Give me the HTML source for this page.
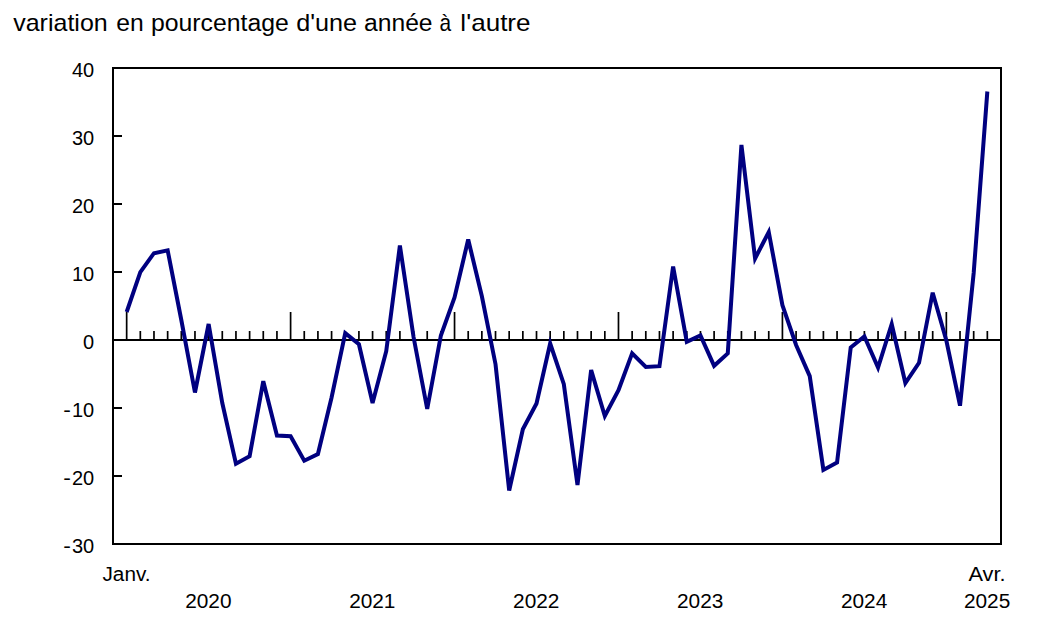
<!DOCTYPE html>
<html><head><meta charset="utf-8">
<style>
html,body{margin:0;padding:0;background:#fff;width:1038px;height:627px;overflow:hidden}
svg{display:block}
text{font-family:"Liberation Sans",sans-serif;fill:#000}
.yl{font-size:20px;text-anchor:end}
.ax{stroke:#000;stroke-width:2}
.tk{stroke:#000;stroke-width:1.7}
</style></head><body>
<svg width="1038" height="627" viewBox="0 0 1038 627">
<rect x="0" y="0" width="1038" height="627" fill="#fff"/>
<rect x="113" y="68" width="888" height="476" fill="none" stroke="#000" stroke-width="2"/>
<line x1="113" y1="340" x2="1001" y2="340" class="ax"/>
<line x1="113" y1="68.0" x2="122" y2="68.0" class="ax"/>
<line x1="113" y1="136.0" x2="122" y2="136.0" class="ax"/>
<line x1="113" y1="204.0" x2="122" y2="204.0" class="ax"/>
<line x1="113" y1="272.0" x2="122" y2="272.0" class="ax"/>
<line x1="113" y1="340.0" x2="122" y2="340.0" class="ax"/>
<line x1="113" y1="408.0" x2="122" y2="408.0" class="ax"/>
<line x1="113" y1="476.0" x2="122" y2="476.0" class="ax"/>
<line x1="113" y1="544.0" x2="122" y2="544.0" class="ax"/>
<line x1="126.66" y1="312" x2="126.66" y2="340" class="tk"/>
<line x1="140.32" y1="331" x2="140.32" y2="340" class="tk"/>
<line x1="153.98" y1="331" x2="153.98" y2="340" class="tk"/>
<line x1="167.65" y1="331" x2="167.65" y2="340" class="tk"/>
<line x1="181.31" y1="331" x2="181.31" y2="340" class="tk"/>
<line x1="194.97" y1="331" x2="194.97" y2="340" class="tk"/>
<line x1="208.63" y1="331" x2="208.63" y2="340" class="tk"/>
<line x1="222.29" y1="331" x2="222.29" y2="340" class="tk"/>
<line x1="235.95" y1="331" x2="235.95" y2="340" class="tk"/>
<line x1="249.62" y1="331" x2="249.62" y2="340" class="tk"/>
<line x1="263.28" y1="331" x2="263.28" y2="340" class="tk"/>
<line x1="276.94" y1="331" x2="276.94" y2="340" class="tk"/>
<line x1="290.60" y1="312" x2="290.60" y2="340" class="tk"/>
<line x1="304.26" y1="331" x2="304.26" y2="340" class="tk"/>
<line x1="317.92" y1="331" x2="317.92" y2="340" class="tk"/>
<line x1="331.58" y1="331" x2="331.58" y2="340" class="tk"/>
<line x1="345.25" y1="331" x2="345.25" y2="340" class="tk"/>
<line x1="358.91" y1="331" x2="358.91" y2="340" class="tk"/>
<line x1="372.57" y1="331" x2="372.57" y2="340" class="tk"/>
<line x1="386.23" y1="331" x2="386.23" y2="340" class="tk"/>
<line x1="399.89" y1="331" x2="399.89" y2="340" class="tk"/>
<line x1="413.55" y1="331" x2="413.55" y2="340" class="tk"/>
<line x1="427.22" y1="331" x2="427.22" y2="340" class="tk"/>
<line x1="440.88" y1="331" x2="440.88" y2="340" class="tk"/>
<line x1="454.54" y1="312" x2="454.54" y2="340" class="tk"/>
<line x1="468.20" y1="331" x2="468.20" y2="340" class="tk"/>
<line x1="481.86" y1="331" x2="481.86" y2="340" class="tk"/>
<line x1="495.52" y1="331" x2="495.52" y2="340" class="tk"/>
<line x1="509.18" y1="331" x2="509.18" y2="340" class="tk"/>
<line x1="522.85" y1="331" x2="522.85" y2="340" class="tk"/>
<line x1="536.51" y1="331" x2="536.51" y2="340" class="tk"/>
<line x1="550.17" y1="331" x2="550.17" y2="340" class="tk"/>
<line x1="563.83" y1="331" x2="563.83" y2="340" class="tk"/>
<line x1="577.49" y1="331" x2="577.49" y2="340" class="tk"/>
<line x1="591.15" y1="331" x2="591.15" y2="340" class="tk"/>
<line x1="604.82" y1="331" x2="604.82" y2="340" class="tk"/>
<line x1="618.48" y1="312" x2="618.48" y2="340" class="tk"/>
<line x1="632.14" y1="331" x2="632.14" y2="340" class="tk"/>
<line x1="645.80" y1="331" x2="645.80" y2="340" class="tk"/>
<line x1="659.46" y1="331" x2="659.46" y2="340" class="tk"/>
<line x1="673.12" y1="331" x2="673.12" y2="340" class="tk"/>
<line x1="686.78" y1="331" x2="686.78" y2="340" class="tk"/>
<line x1="700.45" y1="331" x2="700.45" y2="340" class="tk"/>
<line x1="714.11" y1="331" x2="714.11" y2="340" class="tk"/>
<line x1="727.77" y1="331" x2="727.77" y2="340" class="tk"/>
<line x1="741.43" y1="331" x2="741.43" y2="340" class="tk"/>
<line x1="755.09" y1="331" x2="755.09" y2="340" class="tk"/>
<line x1="768.75" y1="331" x2="768.75" y2="340" class="tk"/>
<line x1="782.42" y1="312" x2="782.42" y2="340" class="tk"/>
<line x1="796.08" y1="331" x2="796.08" y2="340" class="tk"/>
<line x1="809.74" y1="331" x2="809.74" y2="340" class="tk"/>
<line x1="823.40" y1="331" x2="823.40" y2="340" class="tk"/>
<line x1="837.06" y1="331" x2="837.06" y2="340" class="tk"/>
<line x1="850.72" y1="331" x2="850.72" y2="340" class="tk"/>
<line x1="864.38" y1="331" x2="864.38" y2="340" class="tk"/>
<line x1="878.05" y1="331" x2="878.05" y2="340" class="tk"/>
<line x1="891.71" y1="331" x2="891.71" y2="340" class="tk"/>
<line x1="905.37" y1="331" x2="905.37" y2="340" class="tk"/>
<line x1="919.03" y1="331" x2="919.03" y2="340" class="tk"/>
<line x1="932.69" y1="331" x2="932.69" y2="340" class="tk"/>
<line x1="946.35" y1="312" x2="946.35" y2="340" class="tk"/>
<line x1="960.02" y1="331" x2="960.02" y2="340" class="tk"/>
<line x1="973.68" y1="331" x2="973.68" y2="340" class="tk"/>
<line x1="987.34" y1="331" x2="987.34" y2="340" class="tk"/>
<polyline points="126.66,312.00 140.32,272.20 153.98,253.20 167.65,250.30 181.31,320.00 194.97,392.50 208.63,324.00 222.29,403.00 235.95,463.80 249.62,456.20 263.28,381.20 276.94,435.50 290.60,436.30 304.26,460.70 317.92,454.00 331.58,397.50 345.25,333.20 358.91,344.20 372.57,403.00 386.23,351.20 399.89,245.60 413.55,337.00 427.22,409.00 440.88,335.50 454.54,297.50 468.20,239.50 481.86,296.30 495.52,364.20 509.18,490.50 522.85,429.20 536.51,403.50 550.17,343.50 563.83,384.20 577.49,485.00 591.15,370.10 604.82,416.00 618.48,390.20 632.14,353.40 645.80,366.90 659.46,366.20 673.12,266.50 686.78,341.90 700.45,335.50 714.11,365.80 727.77,353.40 741.43,145.00 755.09,258.50 768.75,232.00 782.42,305.20 796.08,345.00 809.74,376.10 823.40,469.90 837.06,462.50 850.72,347.50 864.38,336.50 878.05,367.60 891.71,324.00 905.37,383.00 919.03,362.80 932.69,292.70 946.35,340.50 960.02,405.70 973.68,273.00 987.34,91.50" fill="none" stroke="#000080" stroke-width="4" stroke-linejoin="miter"/>
<text transform="translate(13.20,30.8) scale(1.0872,1)" style="font-size:23px">variation</text>
<text transform="translate(116.23,30.8) scale(1.0739,1)" style="font-size:23px">en</text>
<text transform="translate(150.92,30.8) scale(1.0786,1)" style="font-size:23px">pourcentage</text>
<text transform="translate(296.20,30.8) scale(1.0963,1)" style="font-size:23px">d'une</text>
<text transform="translate(364.03,30.8) scale(1.0726,1)" style="font-size:23px">année</text>
<text transform="translate(439.39,30.8) scale(0.9083,1)" style="font-size:23px">à</text>
<text transform="translate(460.37,30.8) scale(1.1333,1)" style="font-size:23px">l'autre</text>
<text x="94.2" y="77.0" class="yl">40</text>
<text x="94.2" y="145.0" class="yl">30</text>
<text x="94.2" y="213.0" class="yl">20</text>
<text x="94.2" y="281.0" class="yl">10</text>
<text x="94.2" y="349.0" class="yl">0</text>
<text x="94.2" y="417.0" class="yl">10</text>
<text transform="translate(63.36,417.0) scale(1.1400,1)" style="font-size:20px">-</text>
<text x="94.2" y="485.0" class="yl">20</text>
<text transform="translate(63.36,485.0) scale(1.1400,1)" style="font-size:20px">-</text>
<text x="94.2" y="553.0" class="yl">30</text>
<text transform="translate(63.36,553.0) scale(1.1400,1)" style="font-size:20px">-</text>
<text transform="translate(185.19,608) scale(1.0419,1)" style="font-size:20px">2020</text>
<text transform="translate(349.13,608) scale(1.0419,1)" style="font-size:20px">2021</text>
<text transform="translate(513.07,608) scale(1.0419,1)" style="font-size:20px">2022</text>
<text transform="translate(677.00,608) scale(1.0419,1)" style="font-size:20px">2023</text>
<text transform="translate(840.94,608) scale(1.0419,1)" style="font-size:20px">2024</text>
<text transform="translate(963.90,608) scale(1.0419,1)" style="font-size:20px">2025</text>
<text transform="translate(102.50,581) scale(1.0378,1)" style="font-size:20px">Janv.</text>
<text transform="translate(968.50,581) scale(1.0879,1)" style="font-size:20px">Avr.</text>
</svg>
</body></html>
